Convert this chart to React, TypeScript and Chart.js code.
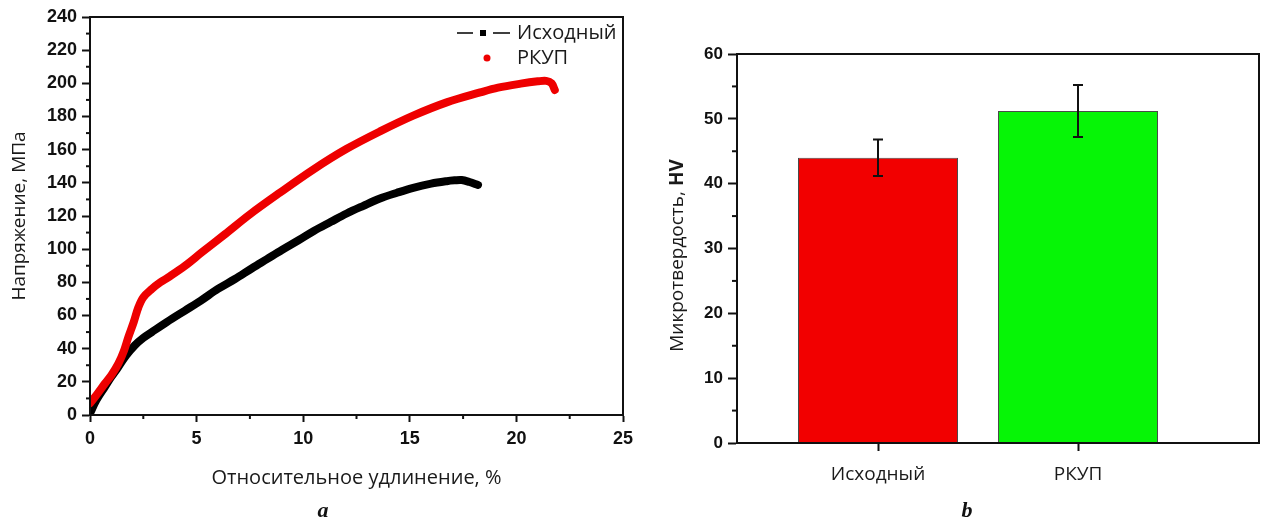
import React, { useEffect, useRef } from "react";
import { Chart, registerables } from "chart.js";

Chart.register(...registerables);

// ---- Data: tensile curves ----
const seriesNames = ["Исходный", "РКУП"];

const strainInitial = [0, 0.3, 0.7, 1.0, 1.33, 1.7, 2.1, 2.5, 2.9, 3.6, 4.46, 5.2, 6.0, 6.8, 7.6, 8.3, 9.0, 9.8, 10.5, 11.3, 12.04, 12.8, 13.6, 14.4, 15.16, 16.0, 16.73, 17.1, 17.43, 17.8, 18.2];
const stressInitial = [1, 9, 17, 23, 29, 36, 42, 46.5, 50, 56, 63, 69, 76, 82, 88.5, 94, 99.5, 105.5, 111, 116.5, 121.5, 126, 130.5, 134, 137, 139.5, 141, 141.5, 141.7, 140.5, 138.7];

const strainECAP = [0, 0.3, 0.7, 1.0, 1.33, 1.6, 1.8, 2.05, 2.27, 2.5, 2.9, 3.3, 3.67, 4.46, 5.24, 6.33, 7.5, 8.9, 10.47, 12.04, 13.6, 15.16, 16.73, 18.3, 19.14, 20.2, 21.0, 21.4, 21.65, 21.8];
const stressECAP = [7, 12, 19, 24, 31, 39, 47, 56, 65, 71, 76, 80, 83, 90, 98, 109, 121, 134, 148, 160.5, 171, 180.5, 188.5, 194.5, 197.4, 199.8, 201.2, 201.5, 200, 196];

const xAxisTitle = "Относительное удлинение, %";
const yAxisTitle = "Напряжение, МПа";

// ---- Data: microhardness ----
const hvCategories = ["Исходный", "РКУП"];
const hvValues = [44, 51.2];
const hvErrors = [2.8, 4.0];
const hvColors = ["#f20000", "#06f506"];
const hvTitleNormal = "Микротвердость, ";
const hvTitleBold = "HV";

const TICK_FONT = '"Liberation Sans", Arial, sans-serif';
const TEXT_FONT = '"Open Sans", "Noto Sans", sans-serif';

const framePlugin = {
  id: "frame",
  afterDraw(chart: any) {
    const { ctx, chartArea: a } = chart;
    ctx.save();
    ctx.strokeStyle = "#111";
    ctx.lineWidth = 2;
    ctx.strokeRect(a.left, a.top, a.right - a.left, a.bottom - a.top);
    ctx.restore();
  },
};

const minorTicksPlugin = {
  id: "minorTicks",
  afterDraw(chart: any, _args: any, opts: any) {
    const { ctx, chartArea: a, scales } = chart;
    ctx.save();
    ctx.strokeStyle = "#111";
    ctx.lineWidth = 2;
    const len = opts.len || 4;
    if (opts.x) {
      const t = scales.x.ticks;
      for (let i = 0; i < t.length - 1; i++) {
        const px = scales.x.getPixelForValue((t[i].value + t[i + 1].value) / 2);
        ctx.beginPath();
        ctx.moveTo(px, a.bottom);
        ctx.lineTo(px, a.bottom + len);
        ctx.stroke();
      }
    }
    if (opts.y) {
      const t = scales.y.ticks;
      for (let i = 0; i < t.length - 1; i++) {
        const py = scales.y.getPixelForValue((t[i].value + t[i + 1].value) / 2);
        ctx.beginPath();
        ctx.moveTo(a.left, py);
        ctx.lineTo(a.left - len, py);
        ctx.stroke();
      }
    }
    ctx.restore();
  },
};

const curveLegendPlugin = {
  id: "curveLegend",
  afterDraw(chart: any) {
    const { ctx, chartArea: a } = chart;
    const r = a.right;
    const y1 = a.top + 16;
    const y2 = a.top + 41;
    ctx.save();
    ctx.strokeStyle = "#000";
    ctx.lineWidth = 1.5;
    ctx.beginPath();
    ctx.moveTo(r - 166, y1);
    ctx.lineTo(r - 150, y1);
    ctx.moveTo(r - 130, y1);
    ctx.lineTo(r - 113, y1);
    ctx.stroke();
    ctx.fillStyle = "#000";
    ctx.fillRect(r - 143, y1 - 3, 6, 6);
    ctx.fillStyle = "#ee0000";
    ctx.beginPath();
    ctx.arc(r - 136, y2, 3.5, 0, Math.PI * 2);
    ctx.fill();
    ctx.fillStyle = "#1a1a1a";
    ctx.font = `20px ${TEXT_FONT}`;
    ctx.textBaseline = "middle";
    ctx.textAlign = "left";
    ctx.fillText(seriesNames[0], r - 106, y1);
    ctx.fillText(seriesNames[1], r - 106, y2);
    ctx.restore();
  },
};

const errorBarPlugin = {
  id: "errorBars",
  afterDatasetsDraw(chart: any) {
    const { ctx, scales } = chart;
    ctx.save();
    ctx.strokeStyle = "#111";
    ctx.lineWidth = 2;
    hvValues.forEach((v, i) => {
      const px = scales.x.getPixelForValue(i + 1);
      const top = scales.y.getPixelForValue(v + hvErrors[i]);
      const bot = scales.y.getPixelForValue(v - hvErrors[i]);
      ctx.beginPath();
      ctx.moveTo(px, top);
      ctx.lineTo(px, bot);
      ctx.moveTo(px - 5, top);
      ctx.lineTo(px + 5, top);
      ctx.moveTo(px - 5, bot);
      ctx.lineTo(px + 5, bot);
      ctx.stroke();
    });
    ctx.restore();
  },
};

const hvTitlePlugin = {
  id: "hvTitle",
  afterDraw(chart: any) {
    const { ctx, chartArea: a } = chart;
    ctx.save();
    ctx.translate(38, (a.top + a.bottom) / 2 + 7);
    ctx.rotate(-Math.PI / 2);
    const fNormal = `19px ${TEXT_FONT}`;
    const fBold = `bold 19px ${TEXT_FONT}`;
    ctx.font = fNormal;
    const w1 = ctx.measureText(hvTitleNormal).width;
    ctx.font = fBold;
    const w2 = ctx.measureText(hvTitleBold).width;
    const start = -(w1 + w2) / 2;
    ctx.textBaseline = "middle";
    ctx.textAlign = "left";
    ctx.fillStyle = "#1a1a1a";
    ctx.font = fNormal;
    ctx.fillText(hvTitleNormal, start, 0);
    ctx.font = fBold;
    ctx.fillText(hvTitleBold, start + w1, 0);
    ctx.restore();
  },
};

function TensileChart() {
  const ref = useRef<HTMLCanvasElement | null>(null);
  useEffect(() => {
    if (!ref.current) return;
    const chart = new Chart(ref.current, {
      type: "line",
      data: {
        datasets: [
          {
            label: seriesNames[0],
            data: strainInitial.map((x, i) => ({ x, y: stressInitial[i] })),
            borderColor: "#000",
            backgroundColor: "#000",
            borderWidth: 8,
            pointRadius: 0,
            tension: 0.35,
            borderCapStyle: "round",
            borderJoinStyle: "round",
            order: 2,
          },
          {
            label: seriesNames[1],
            data: strainECAP.map((x, i) => ({ x, y: stressECAP[i] })),
            borderColor: "#ee0000",
            backgroundColor: "#ee0000",
            borderWidth: 8,
            pointRadius: 0,
            tension: 0.35,
            borderCapStyle: "round",
            borderJoinStyle: "round",
            order: 1,
          },
        ],
      },
      options: {
        responsive: false,
        animation: false,
        layout: { padding: { top: 17, right: 17, left: 0, bottom: 0 } },
        plugins: {
          legend: { display: false },
          tooltip: { enabled: false },
          minorTicks: { x: true, y: true, len: 4 },
        } as any,
        scales: {
          x: {
            type: "linear",
            min: 0,
            max: 25,
            ticks: {
              stepSize: 5,
              font: { family: TICK_FONT, weight: "bold", size: 18 },
              color: "#111",
              padding: 6,
            },
            grid: { drawOnChartArea: false, drawTicks: true, tickLength: 7, tickWidth: 2, tickColor: "#111" },
            border: { display: true, color: "#111", width: 2 },
            title: {
              display: true,
              text: xAxisTitle,
              font: { family: TEXT_FONT, size: 20, lineHeight: 1 },
              color: "#1a1a1a",
              padding: { top: 0, bottom: 36 },
            },
            afterFit: (s: any) => {
              s.height = 109;
            },
          },
          y: {
            type: "linear",
            min: 0,
            max: 240,
            ticks: {
              stepSize: 20,
              font: { family: TICK_FONT, weight: "bold", size: 18 },
              color: "#111",
              padding: 5,
            },
            grid: { drawOnChartArea: false, drawTicks: true, tickLength: 8, tickWidth: 2, tickColor: "#111" },
            border: { display: true, color: "#111", width: 2 },
            title: {
              display: true,
              text: yAxisTitle,
              font: { family: TEXT_FONT, size: 19, lineHeight: 1 },
              color: "#1a1a1a",
              padding: { top: 10, bottom: 0 },
            },
            afterFit: (s: any) => {
              s.width = 90;
            },
          },
        },
      } as any,
      plugins: [framePlugin, minorTicksPlugin, curveLegendPlugin],
    });
    return () => chart.destroy();
  }, []);
  return <canvas ref={ref} width={640} height={524} style={{ width: 640, height: 524, display: "block" }} />;
}

function HardnessChart() {
  const ref = useRef<HTMLCanvasElement | null>(null);
  useEffect(() => {
    if (!ref.current) return;
    const chart = new Chart(ref.current, {
      type: "bar",
      data: {
        datasets: [
          {
            data: hvValues.map((y, i) => ({ x: i + 1, y })),
            backgroundColor: hvColors,
            borderColor: "#4a4a4a",
            borderWidth: 1,
            categoryPercentage: 1,
            barPercentage: 0.8,
          },
        ],
      },
      options: {
        responsive: false,
        animation: false,
        layout: { padding: { top: 54, right: 2, left: 0, bottom: 0 } },
        plugins: {
          legend: { display: false },
          tooltip: { enabled: false },
          minorTicks: { x: false, y: true, len: 5 },
        } as any,
        scales: {
          x: {
            type: "linear",
            min: 0.295,
            max: 2.905,
            offset: false,
            afterBuildTicks: (s: any) => {
              s.ticks = hvCategories.map((_, i) => ({ value: i + 1 }));
            },
            ticks: {
              autoSkip: false,
              maxRotation: 0,
              callback: (v: any) => hvCategories[Math.round(v) - 1] ?? "",
              font: { family: TEXT_FONT, size: 19 },
              color: "#1a1a1a",
              padding: 12,
            },
            grid: { offset: false, drawOnChartArea: false, drawTicks: true, tickLength: 8, tickWidth: 2, tickColor: "#111" },
            border: { display: true, color: "#111", width: 2 },
            afterFit: (s: any) => {
              s.height = 81;
            },
          },
          y: {
            type: "linear",
            min: 0,
            max: 60,
            ticks: {
              stepSize: 10,
              font: { family: TICK_FONT, weight: "bold", size: 17 },
              color: "#111",
              padding: 5,
            },
            grid: { drawOnChartArea: false, drawTicks: true, tickLength: 9, tickWidth: 2, tickColor: "#111" },
            border: { display: true, color: "#111", width: 2 },
            afterFit: (s: any) => {
              s.width = 97;
            },
          },
        },
      } as any,
      plugins: [framePlugin, minorTicksPlugin, errorBarPlugin, hvTitlePlugin],
    });
    return () => chart.destroy();
  }, []);
  return <canvas ref={ref} width={621} height={524} style={{ width: 621, height: 524, display: "block" }} />;
}

const panelLabel: React.CSSProperties = {
  position: "absolute",
  top: 510,
  transform: "translate(-50%, -50%)",
  fontFamily: '"Liberation Serif", "DejaVu Serif", serif',
  fontWeight: "bold",
  fontStyle: "italic",
  fontSize: 22,
  lineHeight: 1,
  color: "#111",
};

export default function App() {
  return (
    <div style={{ position: "absolute", left: 0, top: 0, width: 1261, height: 524, background: "#fff", overflow: "hidden" }}>
      <div style={{ position: "absolute", left: 0, top: 0 }}>
        <TensileChart />
      </div>
      <div style={{ position: "absolute", left: 640, top: 0 }}>
        <HardnessChart />
      </div>
      <div style={{ ...panelLabel, left: 323 }}>a</div>
      <div style={{ ...panelLabel, left: 967 }}>b</div>
    </div>
  );
}
